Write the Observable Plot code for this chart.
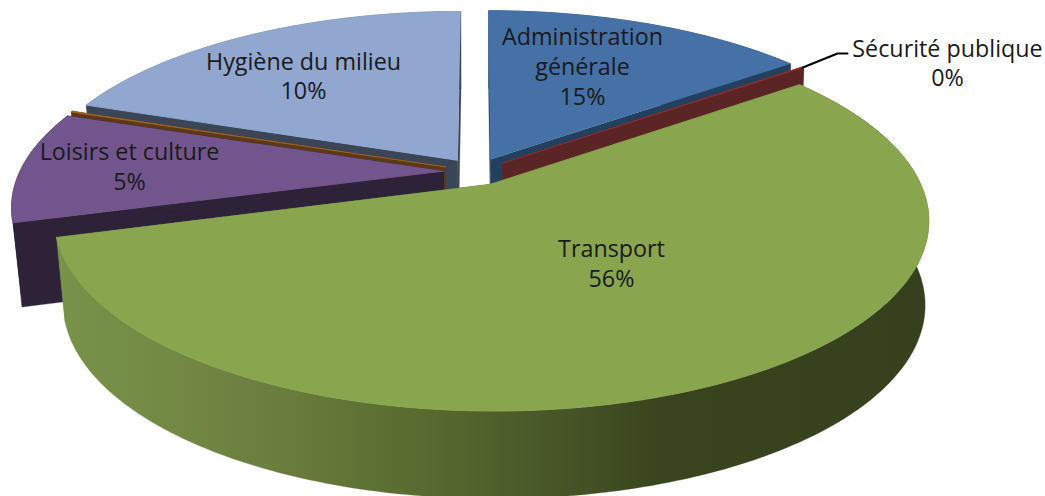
<!DOCTYPE html>
<html><head><meta charset="utf-8">
<style>html,body{margin:0;padding:0;background:#fff}svg{display:block}</style>
<script src="https://cdn.jsdelivr.net/npm/d3@7"></script>
<script src="https://cdn.jsdelivr.net/npm/@observablehq/plot@0.6"></script>
</head><body><div id="chart"></div>
<script>
const categories = ["Administration\ngénérale", "Sécurité publique", "Transport", "Loisirs et culture", "", "Hygiène du milieu"];
const shares = [14.7, 0.1, 55.8, 9.7, 0.1, 19.6];
const printedPercents = ["15%", "0%", "56%", "5%", "", "10%"];

// Styling and view
const topColors = ["#4571a6", "#8e2f2d", "#89a54e", "#71558c", "#a0622a", "#91a7cf"];
const wallColors = ["#24405f", "#5b2526", "url(#greenWall)", "#2d2238", "#5c3a17", "#3a4556"];
const drawOrder = [5, 4, 3, 0, 1, 2];
const labelAnchors = [[582, 65], [947, 61.5], [611, 262], [129, 165], null, [303, 74.5]];
const view = {cx: 476, cy: 171, sx: 424, sy: 180, k: 0.184, explode: 0.077, depth: 83, insetLeft: 0.98, insetRight: 0.992};

const total = d3.sum(shares);
const ends = Array.from(d3.cumsum(shares), (d) => d / total * 360);
const starts = ends.map((d, i) => (i ? ends[i - 1] : 0));
const rad = Math.PI / 180;

function project(angle, r, mid, z) {
  const u = r * Math.sin(angle * rad) + view.explode * Math.sin(mid * rad);
  const w = -(r * Math.cos(angle * rad) + view.explode * Math.cos(mid * rad));
  const den = 1 - view.k * w;
  const X = view.sx * u / den, Y = view.sy * w / den;
  return z ? {x: view.cx + X * (X < 0 ? view.insetLeft : view.insetRight), y: view.cy + Y * 0.99 + view.depth * (1 + 0.08 * w)}
           : {x: view.cx + X, y: view.cy + Y};
}
function rim(i, z) {
  const mid = (starts[i] + ends[i]) / 2, n = Math.max(2, Math.ceil(ends[i] - starts[i]));
  return d3.range(n + 1).map((j) => project(starts[i] + (ends[i] - starts[i]) * j / n, 1, mid, z));
}
const vertex = (i, z) => project(0, 0, (starts[i] + ends[i]) / 2, z);

const poly = (pts, color, sw) => Plot.line(pts, {x: "x", y: "y", fill: color, stroke: color, strokeWidth: sw, curve: "linear"});

const marks = [];
for (const i of drawOrder) {
  const top = rim(i, 0), bot = rim(i, 1);
  const last = top.length - 1;
  marks.push(poly([vertex(i, 0), top[0], bot[0], vertex(i, 1)], wallColors[i], 0.3));
  marks.push(poly([vertex(i, 0), top[last], bot[last], vertex(i, 1)], wallColors[i], 0.3));
  marks.push(poly([...top, ...bot.slice().reverse()], wallColors[i], 0.3));
  marks.push(poly([vertex(i, 0), ...top], topColors[i], 1));
}

// Leader line from the Sécurité publique slice to its label
const secMid = (starts[1] + ends[1]) / 2;
const leaderStart = project(secMid, 1, secMid, 0);
marks.push(Plot.line([leaderStart, {x: 837, y: 53}, {x: 847, y: 53}], {x: "x", y: "y", stroke: "#000", strokeWidth: 2}));

const labels = categories.map((c, i) => ({text: c + "\n" + printedPercents[i], a: labelAnchors[i]})).filter((d) => d.a);
marks.push(Plot.text(labels, {
  x: (d) => d.a[0], y: (d) => d.a[1], text: "text",
  fontFamily: "Open Sans", fontSize: 23.3, lineHeight: 1.28, fill: "#1a1a1a"
}));

const chart = Plot.plot({
  width: 1045, height: 496, margin: 0,
  x: {domain: [0, 1045], range: [0, 1045], axis: null},
  y: {domain: [0, 496], range: [0, 496], axis: null},
  marks
});
const defs = document.createElementNS("http://www.w3.org/2000/svg", "defs");
defs.innerHTML = `<linearGradient id="greenWall" gradientUnits="userSpaceOnUse" x1="50" y1="0" x2="930" y2="0">
<stop offset="0" stop-color="#78934a"/><stop offset="0.15" stop-color="#728844"/>
<stop offset="0.3" stop-color="#66793a"/><stop offset="0.42" stop-color="#586b30"/>
<stop offset="0.55" stop-color="#4a5929"/><stop offset="0.7" stop-color="#39431e"/>
<stop offset="1" stop-color="#37401c"/></linearGradient>`;
chart.prepend(defs);
document.getElementById("chart").append(chart);
</script></body></html>
